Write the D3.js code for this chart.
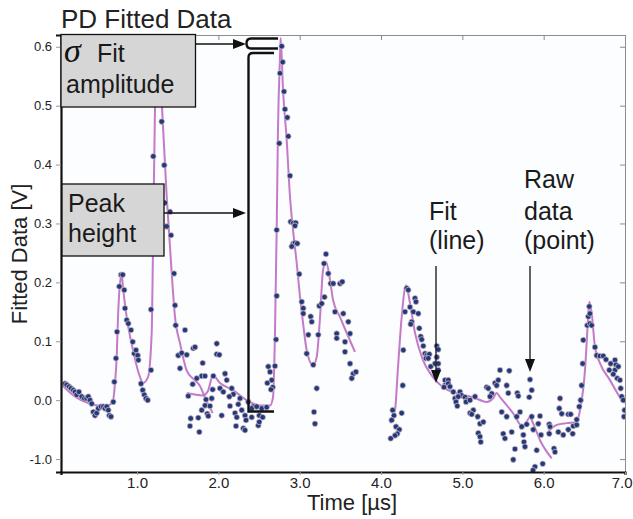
<!DOCTYPE html>
<html>
<head>
<meta charset="utf-8">
<script src="https://cdn.jsdelivr.net/npm/d3@7"></script>
<style>
  body { margin: 0; background: #fff; }
  svg { display: block; font-family: "Liberation Sans", Arial, Helvetica, sans-serif; }
</style>
</head>
<body>
<div id="chart"></div>
<script>
// values (time in µs, voltage in V)
const xTicks = [1, 2, 3, 4, 5, 6, 7];
const xTickLabels = ["1.0", "2.0", "3.0", "4.0", "5.0", "6.0", "7.0"];
const yTicks = [-0.1, 0, 0.1, 0.2, 0.3, 0.4, 0.5, 0.6];
// the bottom tick really is printed as "-1.0" in the original
const yTickLabels = ["-1.0", "0.0", "0.1", "0.2", "0.3", "0.4", "0.5", "0.6"];

// raw data points [time, volts]
const rawPoints = [
  [0.114,0.028],[0.135,0.026],[0.164,0.023],[0.188,0.020],[0.216,0.017],[0.237,0.014],[0.258,0.009],[0.286,0.014],
  [0.320,0.006],[0.352,0.003],[0.381,0.003],[0.401,0.006],[0.422,0.000],[0.443,-0.006],[0.462,-0.020],[0.483,-0.026],
  [0.504,-0.022],[0.524,-0.014],[0.557,-0.011],[0.585,-0.011],[0.606,-0.014],[0.627,-0.011],[0.647,-0.017],[0.659,-0.026],
  [0.680,-0.028],[0.708,-0.003],[0.721,0.031],[0.741,0.071],[0.754,0.116],[0.782,0.193],[0.803,0.213],[0.824,0.213],
  [0.843,0.187],[0.852,0.156],[0.873,0.136],[0.893,0.130],[0.926,0.119],[0.947,0.099],[0.966,0.079],[0.987,0.085],
  [1.008,0.076],[1.016,0.068],[1.049,0.028],[1.070,0.017],[1.089,0.009],[1.110,0.003],[1.131,0.000],[1.172,0.051],
  [1.172,0.154],[1.200,0.414],[1.303,0.473],[1.335,0.399],[1.344,0.335],[1.405,0.320],[1.365,0.295],[1.418,0.280],
  [1.455,0.215],[1.467,0.161],[1.475,0.127],[1.507,0.076],[1.549,0.080],[1.528,0.054],[1.590,0.119],
  [1.611,0.077],[1.692,0.088],[1.713,0.090],[1.980,0.096],[1.980,0.078],[2.012,0.077],[1.807,0.063],[1.795,0.041],
  [1.836,0.041],[1.734,0.037],[1.684,0.027],[1.630,0.007],[1.938,0.041],[1.930,0.018],[2.020,0.020],[2.082,0.045],
  [2.103,0.034],[2.061,0.014],[2.164,0.020],[2.184,0.010],[2.135,0.006],[2.266,0.003],[1.848,0.001],[1.918,0.003],
  [1.836,-0.009],[1.897,-0.010],[2.143,-0.010],[2.245,-0.007],[2.368,-0.003],[2.430,-0.011],[2.533,-0.014],[2.594,-0.012],
  [2.205,-0.022],[2.287,-0.017],[2.410,-0.014],[2.471,-0.011],[1.864,-0.023],[1.795,-0.017],[1.876,-0.027],[2.041,-0.026],
  [2.226,-0.029],[2.328,-0.026],[2.410,-0.029],[2.503,-0.026],[2.545,-0.029],[1.660,-0.031],[1.753,-0.030],[1.651,-0.044],
  [1.766,-0.054],[2.217,-0.044],[2.307,-0.048],[2.491,-0.043],[2.503,-0.037],[2.328,-0.051],[2.340,-0.034],[2.614,0.057],
  [2.635,0.048],[2.656,0.034],[2.602,0.029],[2.668,0.022],[2.647,0.018],[2.696,0.058],[2.709,0.103],
  [2.717,0.177],[2.717,0.289],[2.749,0.436],[2.758,0.555],[2.779,0.601],[2.791,0.574],[2.807,0.524],[2.819,0.494],
  [2.848,0.480],[2.860,0.448],[2.881,0.381],[2.889,0.303],[2.921,0.301],[2.951,0.301],[2.942,0.296],[2.921,0.266],
  [2.942,0.267],[2.971,0.266],[2.902,0.261],[2.995,0.214],[3.025,0.167],[3.044,0.156],[3.044,0.147],[3.135,0.142],
  [3.148,0.133],[3.106,0.111],[3.086,0.079],[3.167,0.060],[3.209,0.020],[3.176,-0.020],[3.188,-0.040],[3.229,0.111],
  [3.241,0.160],[3.271,0.164],[3.305,0.175],[3.299,0.232],[3.323,0.248],[3.352,0.215],[3.381,0.198],[3.413,0.198],
  [3.455,0.113],[3.455,0.105],[3.496,0.198],[3.524,0.201],[3.434,0.150],[3.536,0.147],[3.557,0.099],[3.557,0.082],
  [3.598,0.133],[3.619,0.113],[3.619,0.062],[3.659,0.045],[3.640,0.037],[3.692,0.048],
  [4.316,0.190],[4.335,0.187],[4.295,0.150],[4.418,0.173],[4.430,0.167],[4.356,0.158],[4.397,0.150],[4.458,0.147],
  [4.377,0.133],[4.365,0.129],[4.471,0.122],[4.488,0.108],[4.500,0.103],[4.520,0.092],[4.541,0.079],[4.562,0.076],
  [4.594,0.078],[4.553,0.071],[4.581,0.071],[4.685,0.092],[4.704,0.086],[4.685,0.073],[4.611,0.057],[4.664,0.062],
  [4.704,0.062],[4.704,0.051],[4.274,0.085],[4.267,0.025],[4.787,0.034],[4.827,0.034],[4.787,0.025],[4.827,0.028],
  [4.848,0.023],[4.774,0.022],[4.889,0.014],[4.971,0.014],[4.992,0.008],[4.910,0.003],[4.950,0.006],[4.922,-0.003],
  [4.938,-0.010],[5.033,0.005],[5.061,0.000],[5.045,-0.003],[5.094,0.000],[5.156,0.006],[5.135,-0.017],[5.094,-0.022],
  [5.115,-0.024],[5.189,-0.028],[5.217,-0.040],[5.258,-0.037],[5.196,-0.056],[5.217,-0.062],[5.226,-0.071],[5.299,0.022],
  [5.319,0.020],[5.361,0.011],[5.340,0.006],[5.401,0.029],[5.442,0.034],[5.422,0.025],[5.463,0.051],[5.545,0.025],
  [5.565,0.012],[5.484,-0.020],[5.545,-0.028],[5.668,-0.028],[5.607,-0.054],[5.503,-0.057],[5.524,-0.065],[5.647,-0.083],
  [5.626,-0.101],[4.143,-0.017],[4.159,-0.026],[4.131,-0.034],[4.254,-0.022],[4.184,-0.045],[4.225,-0.050],[4.200,-0.057],
  [4.172,-0.060],[4.119,-0.065],
  [5.577,0.050],[5.676,0.012],[5.688,0.007],[5.709,-0.020],[5.730,-0.045],[5.750,-0.059],[5.758,-0.071],[5.770,-0.079],
  [5.832,0.035],[5.853,0.017],[5.823,0.005],[5.853,-0.028],[5.872,-0.050],[5.791,-0.041],[5.955,-0.027],[5.934,-0.040],
  [5.967,-0.059],[5.914,-0.085],[5.988,-0.108],[5.893,-0.113],[5.869,-0.119],[6.069,-0.041],[6.078,-0.045],[6.069,-0.057],
  [6.127,-0.082],[6.139,-0.088],[6.180,-0.054],[6.241,-0.059],[6.201,0.003],[6.192,-0.014],[6.222,-0.023],[6.303,-0.024],
  [6.332,-0.024],[6.303,-0.050],[6.364,-0.044],[6.357,-0.057],[6.406,-0.042],[6.406,-0.033],[6.438,-0.011],[6.455,0.000],
  [6.467,0.025],[6.480,0.062],[6.487,0.102],[6.536,0.127],[6.549,0.142],[6.569,0.130],[6.590,0.127],[6.561,0.159],
  [6.569,0.147],[6.631,0.090],[6.652,0.076],[6.692,0.075],[6.733,0.075],[6.766,0.069],[6.807,0.051],[6.824,0.062],
  [6.877,0.068],[6.889,0.060],[6.877,0.051],[6.918,0.057],[6.856,0.044],[6.905,0.037],[6.938,0.034],[6.947,0.020],
  [6.959,0.006],[6.979,0.000],[6.995,-0.017],[6.988,-0.028]
];

// fitted pulse curve, in pieces
const fitA = [
  [0.074,0.026],[0.237,0.006],[0.401,-0.005],[0.520,-0.009],[0.643,-0.009],[0.705,0.000],[0.729,0.029],[0.750,0.074],
  [0.766,0.141],[0.791,0.199],[0.812,0.213],[0.827,0.192],[0.873,0.141],[0.950,0.085],[1.037,0.039],[1.073,0.029],
  [1.135,0.039],[1.180,0.114],[1.196,0.255],[1.221,0.498],[1.258,0.610],[1.307,0.498],[1.365,0.345],[1.426,0.216],
  [1.467,0.141],[1.528,0.097],[1.611,0.050],[1.700,0.035],[1.770,0.025],[1.850,0.000],[1.930,-0.022]
];
const fitB = [
  [1.611,0.012],[1.811,0.008],[1.870,0.015],[1.934,0.042],[2.020,0.029],[2.180,0.017],[2.348,0.000],[2.512,-0.009],
  [2.635,-0.009],[2.672,0.005],[2.696,0.114],[2.717,0.289],[2.733,0.459],[2.758,0.583],[2.766,0.615],[2.795,0.527],
  [2.840,0.442],[2.881,0.345],[2.918,0.289],[2.963,0.233],[3.004,0.175],[3.041,0.131],[3.086,0.085],[3.164,0.059],
  [3.209,0.073],[3.250,0.141],[3.287,0.221],[3.324,0.235],[3.373,0.204],[3.410,0.170],[3.496,0.141],[3.578,0.114],
  [3.680,0.082]
];
const fitC = [
  [4.111,-0.039],[4.172,-0.017],[4.209,0.056],[4.254,0.141],[4.307,0.195],[4.356,0.165],[4.418,0.114],[4.516,0.068],
  [4.639,0.039],[4.762,0.022],[4.930,0.012],[5.131,0.005],[5.299,-0.003],[5.377,0.003],[5.422,0.012],[5.463,0.005],
  [5.623,-0.022],[5.746,-0.046],[5.832,-0.029],[5.869,-0.039],[5.955,-0.068],[6.099,-0.099]
];
const fitD = [
  [6.037,-0.056],[6.160,-0.042],[6.283,-0.039],[6.406,-0.037],[6.447,-0.017],[6.508,0.051],[6.545,0.136],[6.561,0.167],
  [6.590,0.148],[6.631,0.090],[6.692,0.063],[6.815,0.034],[6.938,0.005],[7.000,-0.005]
];
const fitSegments = [fitA, fitB, fitC, fitD];

// ---- layout ----
const W = 633, H = 519;
const margin = {top: 35, right: 8, bottom: 47, left: 61};
const width = W - margin.left - margin.right;
const height = H - margin.top - margin.bottom;

const svg = d3.select("#chart").append("svg")
    .attr("width", W)
    .attr("height", H);

const x = d3.scaleLinear().domain([0.065, 7.0]).range([0, width]);
const y = d3.scaleLinear().domain([-0.122, 0.620]).range([height, 0]);

const g = svg.append("g")
    .attr("transform", `translate(${margin.left},${margin.top})`);

g.append("rect")
    .attr("width", width)
    .attr("height", height)
    .attr("fill", "#fcfdff");

svg.append("defs").append("clipPath")
    .attr("id", "plot-clip")
  .append("rect")
    .attr("width", width)
    .attr("height", height);

// top + right frame with inward ticks
const topAxis = g.append("g")
    .call(d3.axisTop(x).tickValues(xTicks).tickSize(-5).tickFormat(""));
const rightAxis = g.append("g")
    .attr("transform", `translate(${width},0)`)
    .call(d3.axisRight(y).tickValues(yTicks).tickSize(-5).tickFormat(""));
[topAxis, rightAxis].forEach(a => {
    a.selectAll("path, line").attr("stroke", "#8c8c8c").attr("stroke-width", 1);
});

// data
const plot = g.append("g").attr("clip-path", "url(#plot-clip)");

const line = d3.line()
    .x(d => x(d[0]))
    .y(d => y(d[1]))
    .curve(d3.curveMonotoneX);

plot.selectAll(".fit")
    .data(fitSegments)
    .enter().append("path")
    .attr("class", "fit")
    .attr("d", line)
    .attr("fill", "none")
    .attr("stroke", "#bd6cc2")
    .attr("stroke-width", 2)
    .attr("stroke-opacity", 0.9);

plot.selectAll(".raw")
    .data(rawPoints)
    .enter().append("circle")
    .attr("class", "raw")
    .attr("cx", d => x(d[0]))
    .attr("cy", d => y(d[1]))
    .attr("r", 2.8)
    .attr("fill", "#1f3b7c")
    .attr("stroke", "#e6c4c8")
    .attr("stroke-width", 0.7);

// left + bottom axes
const leftAxis = g.append("g")
    .call(d3.axisLeft(y).tickValues(yTicks).tickSize(5).tickPadding(4)
        .tickFormat((d, i) => yTickLabels[i]));
const bottomAxis = g.append("g")
    .attr("transform", `translate(0,${height})`)
    .call(d3.axisBottom(x).tickValues(xTicks).tickSize(3).tickPadding(2)
        .tickFormat((d, i) => xTickLabels[i]));

leftAxis.select(".domain").attr("stroke", "#111").attr("stroke-width", 2.2);
bottomAxis.select(".domain").attr("stroke", "#111").attr("stroke-width", 2.2);
leftAxis.selectAll(".tick line").attr("stroke", "#999");
bottomAxis.selectAll(".tick line").attr("stroke", "#999");
leftAxis.selectAll("text")
    .attr("font-family", "Liberation Sans, Arial, sans-serif")
    .attr("font-size", "13px")
    .attr("fill", "#222");
bottomAxis.selectAll("text")
    .attr("font-family", "Liberation Sans, Arial, sans-serif")
    .attr("font-size", "15px")
    .attr("fill", "#222");
// last label sits flush against the right edge, as in the original
bottomAxis.selectAll(".tick text")
    .filter(d => d === 7)
    .attr("text-anchor", "end")
    .attr("dx", "7");

// titles
svg.append("text")
    .attr("x", 61)
    .attr("y", 28)
    .attr("font-size", "26px")
    .attr("fill", "#222")
    .text("PD Fitted Data");

svg.append("text")
    .attr("transform", "translate(27,254) rotate(-90)")
    .attr("text-anchor", "middle")
    .attr("font-size", "22px")
    .attr("fill", "#222")
    .text("Fitted Data [V]");

svg.append("text")
    .attr("x", 352)
    .attr("y", 510)
    .attr("text-anchor", "middle")
    .attr("font-size", "22px")
    .attr("fill", "#222")
    .text("Time [µs]");

// ---- annotations ----
const ann = svg.append("g").attr("class", "annotations");

function arrow(x1, y1, x2, y2) {
    // straight line with a filled head at (x2, y2)
    const len = Math.hypot(x2 - x1, y2 - y1);
    const ux = (x2 - x1) / len, uy = (y2 - y1) / len;
    const hl = 13, hw = 5;
    const bx = x2 - ux * hl, by = y2 - uy * hl;
    ann.append("line")
        .attr("x1", x1).attr("y1", y1).attr("x2", bx).attr("y2", by)
        .attr("stroke", "#111").attr("stroke-width", 1.3);
    ann.append("path")
        .attr("d", `M${x2},${y2}L${bx - uy * hw},${by + ux * hw}L${bx + uy * hw},${by - ux * hw}Z`)
        .attr("fill", "#111");
}

// boxes
ann.append("rect")
    .attr("x", 61).attr("y", 34.5).attr("width", 134.5).attr("height", 72.5)
    .attr("fill", "#d6d6d6").attr("stroke", "#111").attr("stroke-width", 1.3);
ann.append("rect")
    .attr("x", 62).attr("y", 184).attr("width", 102).attr("height", 72)
    .attr("fill", "#d6d6d6").attr("stroke", "#111").attr("stroke-width", 1.3);

ann.append("text")
    .attr("x", 64).attr("y", 62)
    .attr("font-family", "Liberation Serif, Times New Roman, serif")
    .attr("font-style", "italic")
    .attr("font-size", "34px")
    .attr("fill", "#111")
    .text("σ");

const annText = [
    {t: "Fit", x: 97, y: 62},
    {t: "amplitude", x: 66, y: 93},
    {t: "Peak", x: 68, y: 212},
    {t: "height", x: 68, y: 242},
    {t: "Fit", x: 429, y: 220},
    {t: "(line)", x: 429, y: 249},
    {t: "Raw", x: 524, y: 188},
    {t: "data", x: 524, y: 220},
    {t: "(point)", x: 524, y: 249}
];
ann.selectAll(".ann-text")
    .data(annText)
    .enter().append("text")
    .attr("class", "ann-text")
    .attr("x", d => d.x)
    .attr("y", d => d.y)
    .attr("font-size", "25px")
    .attr("fill", "#1a1a1a")
    .text(d => d.t);

// brackets for sigma and peak height
ann.append("path")
    .attr("d", "M278,38.5H251Q246.5,38.5 246.5,43.5Q246.5,48.5 251,48.5H278")
    .attr("fill", "none").attr("stroke", "#111").attr("stroke-width", 2.4);
ann.append("path")
    .attr("d", "M274,53H253Q248.5,53 248.5,57.5V411.5H274")
    .attr("fill", "none").attr("stroke", "#111").attr("stroke-width", 2.4);

arrow(196, 44, 246, 44);
arrow(164, 213, 246, 213);
arrow(436, 266, 436, 383);
arrow(530, 266, 530, 372);
</script>
</body>
</html>
